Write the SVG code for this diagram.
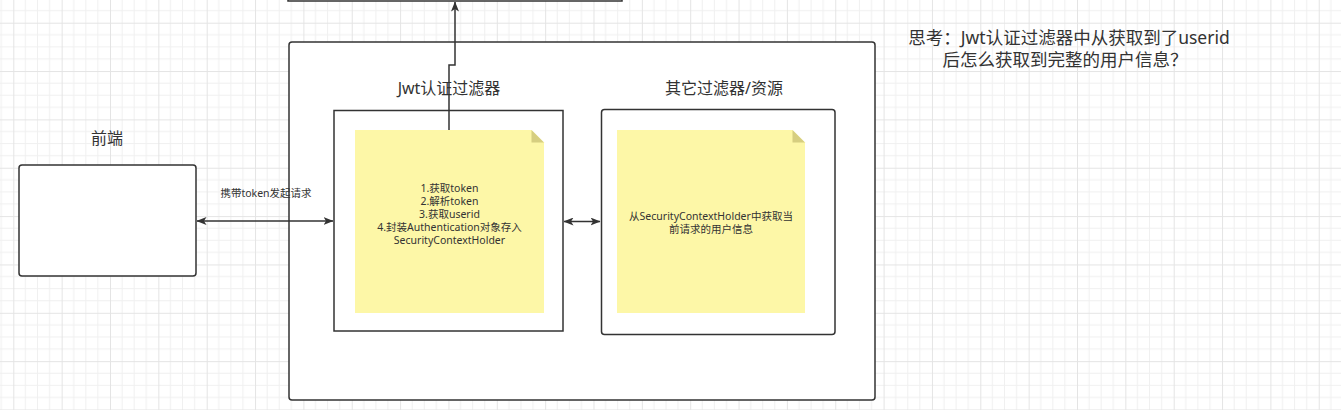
<svg xmlns="http://www.w3.org/2000/svg" width="1341" height="410" viewBox="0 0 1341 410">
<defs>
<pattern id="grid" x="13.3" y="22.7" width="48.35" height="48.35" patternUnits="userSpaceOnUse">
<path d="M12.09 0V48.35M24.18 0V48.35M36.26 0V48.35M0 12.09H48.35M0 24.18H48.35M0 36.26H48.35" stroke="#f0f0f0" stroke-width="1" fill="none"/>
<path d="M0.5 0V48.35M0 0.5H48.35" stroke="#e4e4e4" stroke-width="1" fill="none"/>
</pattern>
<marker id="arr" viewBox="0 0 10 8" refX="9.5" refY="4" markerWidth="10" markerHeight="8" markerUnits="userSpaceOnUse" orient="auto-start-reverse">
<path d="M0,0 L10,4 L0,8 L2.5,4 Z" fill="#333"/>
</marker>
<style>
.box{fill:#fff;stroke:#333;stroke-width:1.5}
.note{fill:#fdf7a7}
.fold{fill:#d6ce80}
.t{font-family:"Noto Sans","Noto Sans CJK SC",sans-serif;fill:#333;text-anchor:middle;dominant-baseline:central}
.s{font-size:10.5px}
.m{font-size:16px}
.l{font-size:17.5px}
.edge{fill:none;stroke:#333;stroke-width:1.5}
</style>
</defs>
<rect width="1341" height="410" fill="#fff"/>
<rect width="1341" height="410" fill="url(#grid)"/>

<g id="top-box"><rect class="box" x="288" y="-40" width="334" height="41"/></g>

<g id="container"><rect class="box" x="289" y="42" width="586" height="358" rx="3"/></g>

<g id="frontend">
<text class="t m" x="107" y="138">前端</text>
<rect class="box" x="19" y="165" width="177" height="111" rx="3"/>
</g>

<g id="jwt-filter">
<text class="t m" x="449" y="88">Jwt认证过滤器</text>
<rect class="box" x="334" y="110.5" width="229" height="220.5"/>
<path class="note" d="M355 130H531.5L544 142.5V313H355Z"/>
<path class="fold" d="M531.5 130L544 142.5H531.5Z"/>
<text class="t s" x="449.5" y="187.5">1.获取token</text>
<text class="t s" x="449.5" y="200.7">2.解析token</text>
<text class="t s" x="449.5" y="213.8">3.获取userid</text>
<text class="t s" x="449.5" y="227">4.封装Authentication对象存入</text>
<text class="t s" x="449.5" y="240.2">SecurityContextHolder</text>
</g>

<g id="other-filters">
<text class="t m" x="724" y="88">其它过滤器/资源</text>
<rect class="box" x="601.5" y="109.5" width="233.5" height="225" rx="3"/>
<path class="note" d="M617 130H792.5L805 142.5V313H617Z"/>
<path class="fold" d="M792.5 130L805 142.5H792.5Z"/>
<text class="t s" x="711" y="216">从SecurityContextHolder中获取当</text>
<text class="t s" x="711" y="228.5">前请求的用户信息</text>
</g>

<g id="thinking">
<text class="t l" x="1069" y="36.5">思考：Jwt认证过滤器中从获取到了userid</text>
<text class="t l" x="1065" y="58.5">后怎么获取到完整的用户信息？</text>
</g>

<g id="connectors">
<path class="edge" d="M197 221H333" marker-start="url(#arr)" marker-end="url(#arr)"/>
<text class="t s" x="266" y="193">携带token发起请求</text>
<path class="edge" d="M564 221.5H600" marker-start="url(#arr)" marker-end="url(#arr)"/>
<path class="edge" d="M449 130V65H455V2" marker-end="url(#arr)"/>
</g>
</svg>
